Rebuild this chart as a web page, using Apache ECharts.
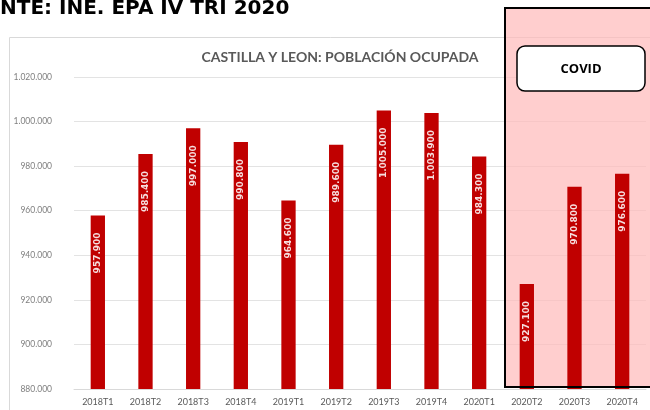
<!DOCTYPE html>
<html>
<head>
<meta charset="utf-8">
<script src="https://cdn.jsdelivr.net/npm/echarts@6/dist/echarts.min.js"></script>
<style>
  html, body { margin: 0; padding: 0; background: #fff; }
  #chart { width: 650px; height: 410px; }
</style>
</head>
<body>
<div id="chart"></div>
<script>
  // EPA Castilla y León, ocupados por trimestre
  const quarters = ['2018T1', '2018T2', '2018T3', '2018T4', '2019T1', '2019T2',
    '2019T3', '2019T4', '2020T1', '2020T2', '2020T3', '2020T4']
  const employed = [957900, 985400, 997000, 990800, 964600, 989600,
    1005000, 1003900, 984300, 927100, 970800, 976600]
  const yMin = 880000
  const yMax = 1020000
  const yStep = 20000

  function dots(v) {
    return String(Math.round(v)).replace(/\B(?=(\d{3})+(?!\d))/g, '.')
  }

  const chart = echarts.init(document.getElementById('chart'))
  chart.setOption({
    animation: false,
    textStyle: { fontFamily: 'Lato, "Liberation Sans", sans-serif' },
    grid: { left: 74, right: 4, top: 77, bottom: 21 },
    title: {
      text: 'CASTILLA Y LEON: POBLACIÓN OCUPADA',
      left: 335,
      textAlign: 'center',
      top: 45,
      textStyle: { color: '#595959', fontSize: 14, fontWeight: 'bold', fontFamily: 'Lato, sans-serif' }
    },
    xAxis: {
      type: 'category',
      data: quarters,
      axisLine: { lineStyle: { color: '#d9d9d9' } },
      axisTick: { show: false },
      axisLabel: { color: '#595959', fontSize: 9, margin: 9 }
    },
    yAxis: {
      type: 'value',
      min: yMin,
      max: yMax,
      interval: yStep,
      axisLine: { show: false },
      axisTick: { show: false },
      splitLine: { lineStyle: { color: '#e3e3e3' } },
      axisLabel: { color: '#7f7f7f', fontSize: 8.5, margin: 22, formatter: dots }
    },
    series: [{
      type: 'bar',
      z: 5,
      data: employed,
      barWidth: '30%',
      itemStyle: { color: '#c00000' },
      label: {
        show: true,
        position: 'insideTop',
        rotate: 90,
        align: 'right',
        verticalAlign: 'middle',
        distance: 17,
        color: '#f6dede',
        fontSize: 9,
        fontWeight: 'bold',
        fontFamily: '"DejaVu Sans", sans-serif',
        formatter: p => dots(p.value)
      }
    }],
    graphic: [
      {
        type: 'text',
        x: 0,
        y: 19,
        style: { text: 'NTE: INE. EPA IV TRI 2020', fill: '#000', font: 'bold 20px "DejaVu Sans", sans-serif', verticalAlign: 'bottom' }
      },
      {
        type: 'rect',
        z: -10,
        shape: { x: 9.5, y: 37.5, width: 660, height: 400 },
        style: { fill: 'none', stroke: '#d9d9d9', lineWidth: 1 }
      },
      {
        type: 'rect',
        z: 1,
        shape: { x: 505, y: 8, width: 150, height: 379 },
        style: { fill: 'rgba(255, 185, 185, 0.7)' }
      },
      {
        type: 'rect',
        z: 50,
        shape: { x: 505, y: 8, width: 150, height: 379 },
        style: { fill: 'none', stroke: '#000', lineWidth: 2 }
      },
      {
        type: 'rect',
        z: 60,
        shape: { x: 517, y: 46, width: 128, height: 45, r: 8 },
        style: { fill: '#fff', stroke: '#000', lineWidth: 1.5 }
      },
      {
        type: 'text',
        z: 61,
        x: 581,
        y: 69,
        style: { text: 'COVID', fill: '#000', font: 'bold 13px "Open Sans", sans-serif', align: 'center', verticalAlign: 'middle' }
      }
    ]
  })
</script>
</body>
</html>
